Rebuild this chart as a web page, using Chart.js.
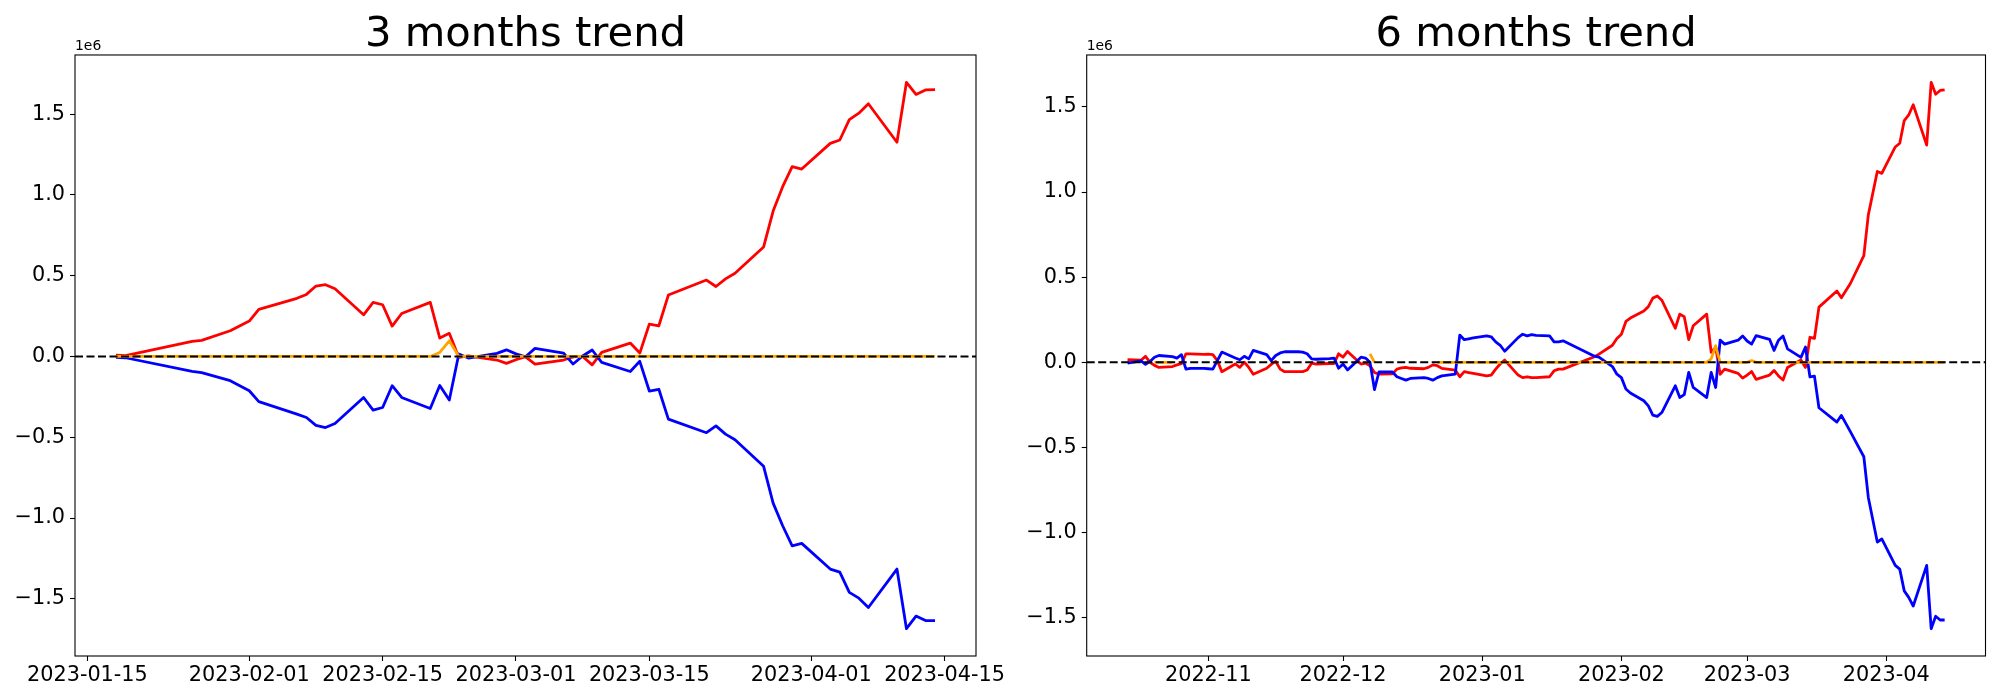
<!DOCTYPE html>
<html>
<head>
<meta charset="utf-8">
<script src="https://cdn.jsdelivr.net/npm/chart.js@4.4.0/dist/chart.umd.min.js"></script>
<style>
html, body { margin: 0; padding: 0; background: #fff; }
#wrap { position: relative; width: 2000px; height: 700px; }
canvas { position: absolute; left: 0; top: 0; }
</style>
</head>
<body>
<div id="wrap">
<canvas id="left" width="2000" height="700"></canvas>
<canvas id="right" width="2000" height="700"></canvas>
</div>
<script>
// values in millions (axis shows 1e6 offset)

// 3 months
var leftDates = ['2023-01-18','2023-01-19','2023-01-26','2023-01-27','2023-01-30','2023-02-01','2023-02-02',
  '2023-02-06','2023-02-07','2023-02-08','2023-02-09','2023-02-10','2023-02-13','2023-02-14','2023-02-15',
  '2023-02-16','2023-02-17','2023-02-20','2023-02-21','2023-02-22','2023-02-23','2023-02-24','2023-02-27',
  '2023-02-28','2023-03-01','2023-03-02','2023-03-03','2023-03-06','2023-03-07','2023-03-08','2023-03-09',
  '2023-03-10','2023-03-13','2023-03-14','2023-03-15','2023-03-16','2023-03-17','2023-03-21','2023-03-22',
  '2023-03-23','2023-03-24','2023-03-27','2023-03-28','2023-03-29','2023-03-30','2023-03-31','2023-04-03',
  '2023-04-04','2023-04-05','2023-04-06','2023-04-07','2023-04-10','2023-04-11','2023-04-12','2023-04-13',
  '2023-04-14'];
var leftRed = [0.008, 0.005, 0.093, 0.10, 0.159, 0.219, 0.291,
  0.36, 0.384, 0.436, 0.444, 0.419, 0.258, 0.335, 0.32,
  0.188, 0.266, 0.335, 0.114, 0.143, -0.006, 0.004, -0.022,
  -0.043, -0.02, -0.002, -0.047, -0.022, -0.003, 0.0, -0.052,
  0.025, 0.083, 0.021, 0.2, 0.19, 0.38, 0.473, 0.433,
  0.48, 0.515, 0.678, 0.9, 1.051, 1.175, 1.16, 1.319,
  1.34, 1.466, 1.506, 1.564, 1.326, 1.697, 1.622, 1.65,
  1.652];
var leftBlue = [-0.005, -0.008, -0.093, -0.10, -0.15, -0.212, -0.28,
  -0.357, -0.378, -0.427, -0.44, -0.415, -0.254, -0.332, -0.316,
  -0.181, -0.254, -0.322, -0.18, -0.27, 0.015, -0.01, 0.019,
  0.041, 0.016, -0.002, 0.05, 0.021, -0.047, 0.003, 0.04,
  -0.037, -0.093, -0.03, -0.214, -0.203, -0.388, -0.472, -0.43,
  -0.481, -0.516, -0.68, -0.908, -1.048, -1.172, -1.157, -1.316,
  -1.335, -1.46, -1.496, -1.554, -1.316, -1.685, -1.607, -1.635,
  -1.635];
var leftOrange = [0, 0, 0, 0, 0, 0, 0,
  0, 0, 0, 0, 0, 0, 0, 0,
  0, 0, 0, 0.025, 0.097, 0, 0, 0,
  0, 0, 0, 0, 0, 0, 0, 0,
  0, 0, 0, 0, 0, 0, 0, 0,
  0, 0, 0, 0, 0, 0, 0, 0,
  0, 0, 0, 0, 0, 0, 0, 0,
  0];
var leftTickDates = ['2023-01-15','2023-02-01','2023-02-15','2023-03-01','2023-03-15','2023-04-01','2023-04-15'];
var leftTickLabels = ['2023-01-15','2023-02-01','2023-02-15','2023-03-01','2023-03-15','2023-04-01','2023-04-15'];

// 6 months
var rightDates = ['2022-10-14','2022-10-17','2022-10-18','2022-10-19','2022-10-20','2022-10-21','2022-10-24',
  '2022-10-25','2022-10-26','2022-10-27','2022-10-28','2022-10-31','2022-11-01','2022-11-02','2022-11-03',
  '2022-11-04','2022-11-07','2022-11-08','2022-11-09','2022-11-10','2022-11-11','2022-11-14','2022-11-15',
  '2022-11-16','2022-11-17','2022-11-18','2022-11-21','2022-11-22','2022-11-23','2022-11-24','2022-11-25',
  '2022-11-28','2022-11-29','2022-11-30','2022-12-01','2022-12-02','2022-12-05','2022-12-06','2022-12-07',
  '2022-12-08','2022-12-09','2022-12-12','2022-12-13','2022-12-14','2022-12-15','2022-12-16','2022-12-19',
  '2022-12-20','2022-12-21','2022-12-22','2022-12-23','2022-12-26','2022-12-27','2022-12-28','2022-12-29',
  '2022-12-30','2023-01-02','2023-01-03','2023-01-04','2023-01-05','2023-01-06','2023-01-09','2023-01-10',
  '2023-01-11','2023-01-12','2023-01-13','2023-01-16','2023-01-17','2023-01-18','2023-01-19','2023-01-26',
  '2023-01-27','2023-01-30','2023-01-31','2023-02-01','2023-02-02','2023-02-03','2023-02-06','2023-02-07',
  '2023-02-08','2023-02-09','2023-02-10','2023-02-13','2023-02-14','2023-02-15','2023-02-16','2023-02-17',
  '2023-02-20','2023-02-21','2023-02-22','2023-02-23','2023-02-24','2023-02-27','2023-02-28','2023-03-01',
  '2023-03-02','2023-03-03','2023-03-06','2023-03-07','2023-03-08','2023-03-09','2023-03-10','2023-03-13',
  '2023-03-14','2023-03-15','2023-03-16','2023-03-17','2023-03-21','2023-03-22','2023-03-24','2023-03-27',
  '2023-03-28','2023-03-30','2023-03-31','2023-04-03','2023-04-04','2023-04-05','2023-04-06','2023-04-07',
  '2023-04-10','2023-04-11','2023-04-12','2023-04-13','2023-04-14'];
var rightRed = [0.015, 0.012, 0.035, 0.0, -0.018, -0.03, -0.025,
  -0.015, -0.008, 0.05, 0.05, 0.046, 0.048, 0.045, 0.01,
  -0.055, -0.01, -0.03, 0.0, -0.03, -0.07, -0.035, -0.012,
  0.005, -0.04, -0.055, -0.055, -0.055, -0.045, -0.005, -0.01,
  -0.007, -0.007, 0.05, 0.03, 0.064, -0.01, -0.005, -0.02,
  -0.06, -0.07, -0.068, -0.04, -0.033, -0.03, -0.035, -0.038,
  -0.03, -0.015, -0.02, -0.036, -0.046, -0.085, -0.055, -0.06,
  -0.065, -0.08, -0.075, -0.04, -0.01, 0.013, -0.075, -0.09,
  -0.085, -0.09, -0.09, -0.085, -0.05, -0.04, -0.04, 0.033,
  0.048, 0.10, 0.14, 0.165, 0.24, 0.26, 0.302, 0.327,
  0.377, 0.39, 0.365, 0.2, 0.283, 0.268, 0.133, 0.215,
  0.283, 0.058, 0.088, -0.07, -0.04, -0.065, -0.093, -0.075,
  -0.054, -0.10, -0.075, -0.048, -0.08, -0.104, -0.03, 0.014,
  -0.03, 0.147, 0.14, 0.324, 0.419, 0.379, 0.463, 0.627,
  0.866, 1.121, 1.11, 1.265, 1.287, 1.42, 1.453, 1.513,
  1.276, 1.645, 1.575, 1.597, 1.601];
var rightBlue = [-0.005, 0.008, -0.012, 0.005, 0.03, 0.04, 0.033,
  0.025, 0.045, -0.04, -0.036, -0.036, -0.038, -0.04, 0.01,
  0.06, 0.025, 0.015, 0.035, 0.02, 0.07, 0.045, 0.01,
  0.04, 0.055, 0.062, 0.062, 0.06, 0.05, 0.02, 0.018,
  0.022, 0.025, -0.035, -0.01, -0.045, 0.03, 0.025, 0.0,
  -0.16, -0.057, -0.057, -0.085, -0.095, -0.105, -0.095, -0.09,
  -0.095, -0.105, -0.09, -0.08, -0.07, 0.16, 0.133, 0.138,
  0.143, 0.155, 0.15, 0.12, 0.10, 0.065, 0.145, 0.165,
  0.155, 0.162, 0.158, 0.155, 0.12, 0.12, 0.126, 0.036,
  0.03, -0.025, -0.07, -0.09, -0.157, -0.18, -0.226, -0.256,
  -0.31, -0.318, -0.295, -0.138, -0.207, -0.19, -0.059, -0.148,
  -0.207, -0.059, -0.148, 0.13, 0.107, 0.13, 0.155, 0.125,
  0.107, 0.157, 0.135, 0.07, 0.13, 0.155, 0.079, 0.029,
  0.09, -0.086, -0.081, -0.267, -0.351, -0.312, -0.407, -0.555,
  -0.794, -1.056, -1.038, -1.193, -1.215, -1.343, -1.381, -1.432,
  -1.193, -1.565, -1.492, -1.514, -1.514];
var rightOrange = [null, null, null, null, 0, 0, 0,
  null, null, null, null, null, null, null, null,
  null, null, null, null, null, null, null, null,
  null, null, null, null, null, null, null, null,
  null, null, null, null, null, null, null, 0.05,
  0, null, null, null, null, null, null, null,
  null, null, 0, 0, 0, 0, 0, 0,
  0, 0, 0, 0, 0, 0, 0, 0,
  0, 0, 0, 0, 0, 0, 0, 0,
  0, 0, 0, 0, 0, 0, 0, 0,
  0, 0, 0, 0, 0, 0, 0, 0,
  0, 0.02, 0.097, 0, 0, 0, 0, 0,
  0.01, 0, 0, 0, 0, 0, 0, 0,
  0, 0, 0, 0, 0, 0, 0, 0,
  0, 0, 0, 0, 0, 0, 0, 0,
  0, 0, 0, 0, 0];
var rightTickDates = ['2022-11-01','2022-12-01','2023-01-01','2023-02-01','2023-03-01','2023-04-01'];
var rightTickLabels = ['2022-11','2022-12','2023-01','2023-02','2023-03','2023-04'];

var yTicks = [-1.5, -1.0, -0.5, 0.0, 0.5, 1.0, 1.5];

var FONT = 'DejaVu Sans';

function toDay(s) {
  var p = s.split('-');
  return Date.UTC(+p[0], +p[1] - 1, +p[2]) / 864e5;
}

// box round the axes + the "1e6" offset text
var framePlugin = {
  id: 'frame',
  afterDraw: function(chart) {
    var a = chart.chartArea, ctx = chart.ctx;
    ctx.save();
    ctx.strokeStyle = '#000';
    ctx.lineWidth = 1.1;
    ctx.strokeRect(a.left, a.top, a.right - a.left, a.bottom - a.top);
    ctx.fillStyle = '#000';
    ctx.font = '13.9px "' + FONT + '"';
    ctx.textAlign = 'left';
    ctx.textBaseline = 'alphabetic';
    ctx.fillText('1e6', a.left, a.top - 5);
    ctx.restore();
  }
};

function makeChart(id, o) {
  var xs = o.dates.map(toDay);
  var x0 = xs[0], x1 = xs[xs.length - 1];
  var xpad = (x1 - x0) * 0.05;
  var all = o.red.concat(o.blue);
  var ymin = Math.min.apply(null, all), ymax = Math.max.apply(null, all);
  var ypad = (ymax - ymin) * 0.05;
  function pts(vals) {
    return xs.map(function(x, i) { return {x: x, y: vals[i]}; });
  }
  var tickFont = {family: FONT, size: 20.8};
  var grid = {display: true, drawOnChartArea: false, drawTicks: true, tickLength: 5, tickWidth: 1.1, color: '#000'};

  return new Chart(document.getElementById(id), {
    type: 'line',
    data: {
      datasets: [
        {data: [{x: x0 - xpad, y: 0}, {x: x1 + xpad, y: 0}], borderColor: '#000', borderWidth: 2.1, borderDash: [8, 3.5]},
        {data: pts(o.orange), borderColor: '#ffa500', borderWidth: 2.8, spanGaps: false},
        {data: pts(o.blue), borderColor: '#0000ff', borderWidth: 2.8},
        {data: pts(o.red), borderColor: '#ff0000', borderWidth: 2.8}
      ]
    },
    options: {
      responsive: false,
      animation: false,
      devicePixelRatio: 1,
      layout: {padding: o.padding},
      elements: {
        point: {radius: 0, hoverRadius: 0},
        line: {tension: 0, borderJoinStyle: 'round', fill: false}
      },
      plugins: {
        legend: {display: false},
        tooltip: {enabled: false},
        title: {
          display: true,
          text: o.title,
          fullSize: false,
          color: '#000',
          font: {family: FONT, size: 41.7, weight: 'normal', lineHeight: 0.93},
          padding: {top: 16, bottom: 0.2}
        }
      },
      scales: {
        x: {
          type: 'linear',
          min: x0 - xpad,
          max: x1 + xpad,
          grid: grid,
          border: {display: false},
          afterBuildTicks: function(s) {
            s.ticks = o.tickDates.map(function(d) { return {value: toDay(d)}; });
          },
          afterFit: function(s) { s.height = 44; },
          ticks: {
            autoSkip: false, maxRotation: 0, padding: 2,
            color: '#000', font: tickFont,
            callback: function(v, i) { return o.tickLabels[i]; }
          }
        },
        y: {
          type: 'linear',
          min: ymin - ypad,
          max: ymax + ypad,
          grid: grid,
          border: {display: false},
          afterBuildTicks: function(s) {
            s.ticks = yTicks.map(function(v) { return {value: v}; });
          },
          afterFit: function(s) { s.width = 75; },
          ticks: {
            padding: 5, color: '#000', font: tickFont,
            callback: function(v) { return v.toFixed(1).replace('-', '\u2212'); }
          }
        }
      }
    },
    plugins: [framePlugin]
  });
}

makeChart('left', {
  title: '3 months trend',
  dates: leftDates, red: leftRed, blue: leftBlue, orange: leftOrange,
  tickDates: leftTickDates, tickLabels: leftTickLabels,
  padding: {left: 0, right: 1024, top: 0, bottom: 0}
});

makeChart('right', {
  title: '6 months trend',
  dates: rightDates, red: rightRed, blue: rightBlue, orange: rightOrange,
  tickDates: rightTickDates, tickLabels: rightTickLabels,
  padding: {left: 1011.7, right: 14.5, top: 0, bottom: 0}
});
</script>
</body>
</html>
